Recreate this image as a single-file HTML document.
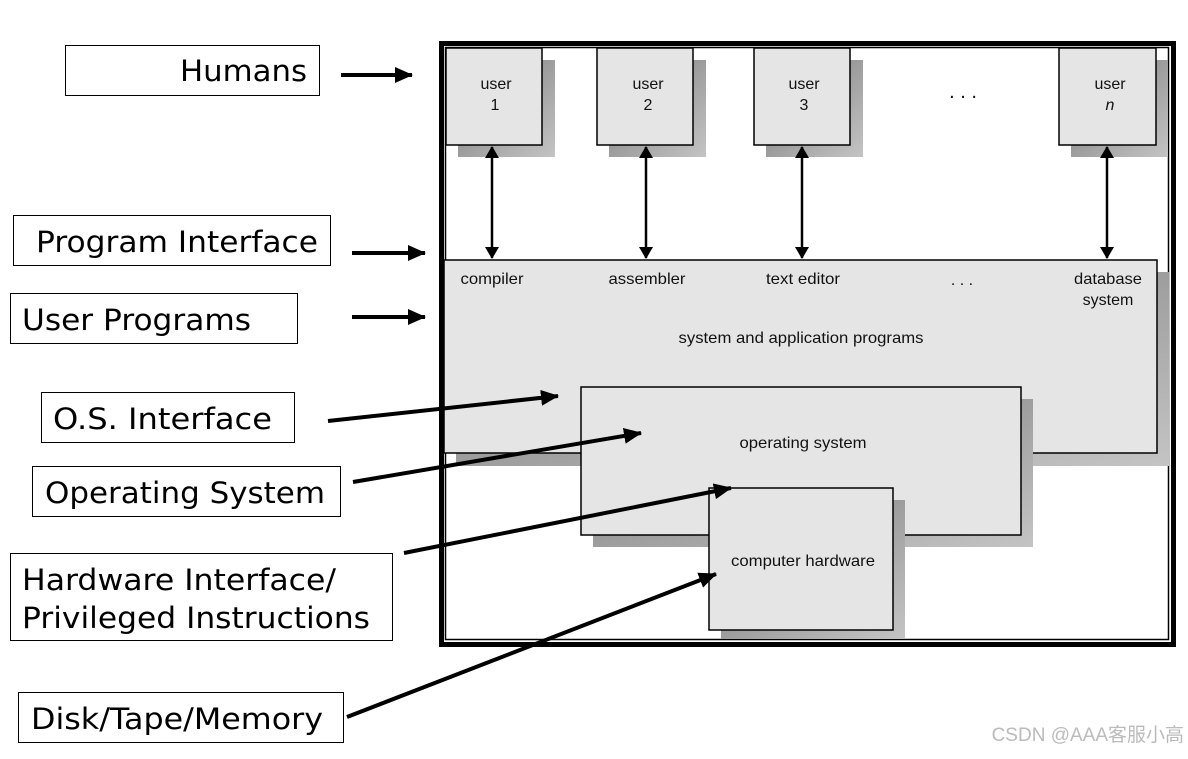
<!DOCTYPE html>
<html><head><meta charset="utf-8"><style>
body{margin:0;background:#fff;}
svg text{font-family:"DejaVu Sans","Liberation Sans",sans-serif;}
</style></head><body>
<svg width="1188" height="754" viewBox="0 0 1188 754" xmlns="http://www.w3.org/2000/svg">
<defs>
<marker id="ab" markerWidth="18" markerHeight="16" refX="17" refY="8" orient="auto" markerUnits="userSpaceOnUse"><path d="M0,0 L18,8 L0,16z" fill="#000"/></marker>
<marker id="as" markerWidth="12" markerHeight="14" refX="1" refY="7" orient="auto" markerUnits="userSpaceOnUse"><path d="M12,0 L0,7 L12,14z" fill="#000"/></marker>
<marker id="ae" markerWidth="12" markerHeight="14" refX="11" refY="7" orient="auto" markerUnits="userSpaceOnUse"><path d="M0,0 L12,7 L0,14z" fill="#000"/></marker>
<linearGradient id="sh" x1="0" y1="0" x2="1" y2="1"><stop offset="0" stop-color="#777"/><stop offset="1" stop-color="#c4c4c4"/></linearGradient>
</defs>
<rect x="441.5" y="43.5" width="732" height="601" fill="#fff" stroke="#000" stroke-width="5"/>
<rect x="445.5" y="47.5" width="723" height="592" fill="none" stroke="#000" stroke-width="1.5"/>
<g font-size="15" text-anchor="middle" fill="#111" font-family="Liberation Sans, sans-serif">
<rect x="458" y="60" width="97" height="97" fill="url(#sh)"/>
<rect x="446" y="48" width="96" height="97" fill="#e6e5e6" stroke="#000" stroke-width="1.5"/>
<text x="496" y="89" style="font-family:'Liberation Sans',sans-serif" font-size="16">user</text><text x="495" y="110" style="font-family:'Liberation Sans',sans-serif" font-size="16">1</text>
<rect x="609" y="60" width="97" height="97" fill="url(#sh)"/>
<rect x="597" y="48" width="96" height="97" fill="#e6e5e6" stroke="#000" stroke-width="1.5"/>
<text x="648" y="89" style="font-family:'Liberation Sans',sans-serif" font-size="16">user</text><text x="648" y="110" style="font-family:'Liberation Sans',sans-serif" font-size="16">2</text>
<rect x="766" y="60" width="97" height="97" fill="url(#sh)"/>
<rect x="754" y="48" width="96" height="97" fill="#e6e5e6" stroke="#000" stroke-width="1.5"/>
<text x="804" y="89" style="font-family:'Liberation Sans',sans-serif" font-size="16">user</text><text x="804" y="110" style="font-family:'Liberation Sans',sans-serif" font-size="16">3</text>
<rect x="1071" y="60" width="97" height="97" fill="url(#sh)"/>
<rect x="1059" y="48" width="97" height="97" fill="#e6e5e6" stroke="#000" stroke-width="1.5"/>
<text x="1110" y="89" style="font-family:'Liberation Sans',sans-serif" font-size="16">user</text><text x="1110" y="110" font-style="italic" style="font-family:'Liberation Sans',sans-serif" font-size="16">n</text>
<text x="963" y="98" font-size="20" style="font-family:'Liberation Sans',sans-serif">. . .</text>
</g>
<rect x="456" y="272" width="713" height="194" fill="url(#sh)"/>
<rect x="444" y="260" width="713" height="193" fill="#e6e5e6" stroke="#000" stroke-width="1.5"/>
<g font-size="16" text-anchor="middle" fill="#111" style="font-family:'Liberation Sans',sans-serif">
<text x="492" y="284" style="font-family:'Liberation Sans',sans-serif" textLength="63" lengthAdjust="spacingAndGlyphs">compiler</text>
<text x="647" y="284" style="font-family:'Liberation Sans',sans-serif" textLength="77" lengthAdjust="spacingAndGlyphs">assembler</text>
<text x="803" y="284" style="font-family:'Liberation Sans',sans-serif" textLength="74" lengthAdjust="spacingAndGlyphs">text editor</text>
<text x="962" y="285" style="font-family:'Liberation Sans',sans-serif">. . .</text>
<text x="1108" y="284" style="font-family:'Liberation Sans',sans-serif" textLength="68" lengthAdjust="spacingAndGlyphs">database</text><text x="1108" y="305" style="font-family:'Liberation Sans',sans-serif">system</text>
<text x="801" y="343" style="font-family:'Liberation Sans',sans-serif" textLength="245" lengthAdjust="spacingAndGlyphs">system and application programs</text>
</g>
<g stroke="#000" stroke-width="2.5">
<line x1="492" y1="147" x2="492" y2="258" marker-start="url(#as)" marker-end="url(#ae)"/>
<line x1="646" y1="147" x2="646" y2="258" marker-start="url(#as)" marker-end="url(#ae)"/>
<line x1="802" y1="147" x2="802" y2="258" marker-start="url(#as)" marker-end="url(#ae)"/>
<line x1="1107" y1="147" x2="1107" y2="258" marker-start="url(#as)" marker-end="url(#ae)"/>
</g>
<rect x="593" y="399" width="440" height="148" fill="url(#sh)"/>
<rect x="581" y="387" width="440" height="148" fill="#e6e5e6" stroke="#000" stroke-width="1.5"/>
<text x="803" y="448" font-size="16" text-anchor="middle" fill="#111" style="font-family:'Liberation Sans',sans-serif" textLength="127" lengthAdjust="spacingAndGlyphs">operating system</text>
<rect x="721" y="500" width="184" height="139" fill="url(#sh)"/>
<rect x="709" y="488" width="184" height="142" fill="#e6e5e6" stroke="#000" stroke-width="1.5"/>
<text x="803" y="566" font-size="16" text-anchor="middle" fill="#111" style="font-family:'Liberation Sans',sans-serif" textLength="144" lengthAdjust="spacingAndGlyphs">computer hardware</text>
<g fill="#fff" stroke="#000" stroke-width="1">
<rect x="65.5" y="45.5" width="254" height="50"/>
<rect x="13.5" y="215.5" width="317" height="50"/>
<rect x="10.5" y="293.5" width="287" height="50"/>
<rect x="41.5" y="392.5" width="253" height="50"/>
<rect x="32.5" y="466.5" width="308" height="50"/>
<rect x="10.5" y="553.5" width="382" height="87"/>
<rect x="18.5" y="692.5" width="325" height="50"/>
</g>
<g font-size="29" fill="#000">
<text x="180" y="81" textLength="127" lengthAdjust="spacingAndGlyphs">Humans</text>
<text x="36" y="252" textLength="282" lengthAdjust="spacingAndGlyphs">Program Interface</text>
<text x="22" y="330" textLength="229" lengthAdjust="spacingAndGlyphs">User Programs</text>
<text x="53" y="429" textLength="219" lengthAdjust="spacingAndGlyphs">O.S. Interface</text>
<text x="45" y="503" textLength="280" lengthAdjust="spacingAndGlyphs">Operating System</text>
<text x="22" y="590" textLength="314" lengthAdjust="spacingAndGlyphs">Hardware Interface/</text>
<text x="22" y="628" textLength="348" lengthAdjust="spacingAndGlyphs">Privileged Instructions</text>
<text x="31" y="729" textLength="292" lengthAdjust="spacingAndGlyphs">Disk/Tape/Memory</text>
</g>
<g stroke="#000" stroke-width="4" fill="none">
<line x1="341" y1="75" x2="412" y2="75" marker-end="url(#ab)"/>
<line x1="352" y1="253" x2="425" y2="253" marker-end="url(#ab)"/>
<line x1="352" y1="317" x2="425" y2="317" marker-end="url(#ab)"/>
<line x1="328" y1="421" x2="558" y2="396" marker-end="url(#ab)"/>
<line x1="353" y1="482" x2="641" y2="433" marker-end="url(#ab)"/>
<line x1="404" y1="553" x2="731" y2="488" marker-end="url(#ab)"/>
<line x1="347" y1="717" x2="716" y2="574" marker-end="url(#ab)"/>
</g>
<text x="1184" y="741" font-size="19" fill="#bbb" text-anchor="end" style="font-family:'Liberation Sans','Noto Sans CJK SC',sans-serif">CSDN @AAA客服小高</text>
</svg>
</body></html>
